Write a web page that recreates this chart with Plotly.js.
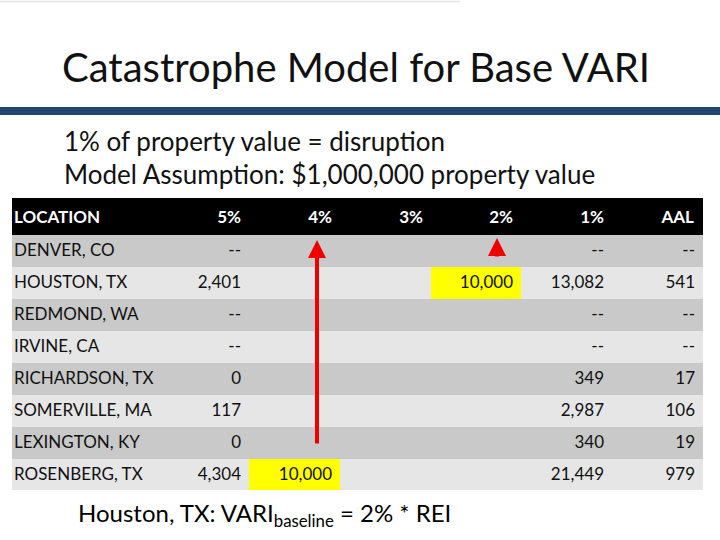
<!DOCTYPE html>
<html>
<head>
<meta charset="utf-8">
<script src="https://cdn.plot.ly/plotly-3.0.1.min.js"></script>
<style>
  body { margin: 0; background: #fff; }
  #graph { width: 720px; height: 540px; }
</style>
</head>
<body>
<div id="graph"></div>
<script>
// données du tableau
var entetes = ['LOCATION', '5%', '4%', '3%', '2%', '1%', 'AAL'];
var lieux = ['DENVER, CO', 'HOUSTON, TX', 'REDMOND, WA', 'IRVINE, CA',
	'RICHARDSON, TX', 'SOMERVILLE, MA', 'LEXINGTON, KY', 'ROSENBERG, TX'];
var p5 = ['--', '2,401', '--', '--', '0', '117', '0', '4,304'];
var p4 = ['', '', '', '', '', '', '', '10,000'];
var p3 = ['', '', '', '', '', '', '', ''];
var p2 = ['', '10,000', '', '', '', '', '', ''];
var p1 = ['--', '13,082', '--', '--', '349', '2,987', '340', '21,449'];
var aal = ['--', '541', '--', '--', '17', '106', '19', '979'];

var police = 'Lato, "Noto Sans", sans-serif';
var W = 720, H = 540;

// couleurs de lignes alternées + cases surlignées en jaune
function couleursColonne(idx) {
	return lieux.map(function (l, i) {
		if ((idx === 4 && i === 1) || (idx === 2 && i === 7)) return '#ffff00';
		return (i % 2 === 0) ? '#c9c9c9' : '#e6e6e6';
	});
}
var fills = [];
for (var c = 0; c < entetes.length; c++) fills.push(couleursColonne(c));

// espaces insécables pour éviter le retour à la ligne
var lieuxAff = lieux.map(function (l) { return l.replace(/ /g, '\u00a0'); });

var data = [{
	type: 'table',
	domain: {x: [6 / W, 703 / W], y: [1 - 490 / H, 1 - 198 / H]},
	columnwidth: [152, 91, 91, 91, 90, 91, 91],
	header: {
		values: entetes.map(function (e) { return '<b>' + e + '</b>'; }),
		align: ['left', 'right', 'right', 'right', 'right', 'right', 'right'],
		fill: {color: '#000000'},
		line: {width: 0, color: '#000000'},
		font: {family: police, size: 17, color: '#ffffff'},
		height: 32
	},
	cells: {
		values: [lieuxAff, p5, p4, p3, p2, p1, aal],
		align: ['left', 'right', 'right', 'right', 'right', 'right', 'right'],
		fill: {color: fills},
		line: {width: 0, color: 'rgba(0,0,0,0)'},
		font: {family: police, size: 17, color: '#111111'},
		height: 32
	}
}];

function px(x) { return x / W; }
function py(y) { return 1 - y / H; }

var layout = {
	width: W, height: H,
	margin: {l: 0, r: 0, t: 0, b: 0},
	paper_bgcolor: '#ffffff',
	showlegend: false,
	title: {
		text: 'Catastrophe Model for Base VARI',
		font: {family: police, size: 40, color: '#111111'},
		x: px(62), xanchor: 'left', xref: 'paper',
		y: py(68), yanchor: 'middle'
	},
	shapes: [
		// fond blanc sous le tableau (colonne gauche décalée)
		{type: 'rect', xref: 'paper', yref: 'paper', x0: 0, x1: px(12), y0: py(490), y1: py(198),
			fillcolor: '#ffffff', line: {width: 0}, layer: 'above'},
		{type: 'rect', xref: 'paper', yref: 'paper', x0: 0, x1: 1, y0: py(115), y1: py(107),
			fillcolor: '#24456f', line: {width: 0}},
		{type: 'line', xref: 'paper', yref: 'paper', x0: 0, x1: px(460), y0: py(1.5), y1: py(1.5),
			line: {color: '#e4e4e4', width: 1.5}}
	],
	annotations: [
		{text: '1% of property value = disruption', xref: 'paper', yref: 'paper',
			x: px(62), y: py(141), xanchor: 'left', yanchor: 'middle', showarrow: false,
			font: {family: police, size: 26, color: '#111111'}},
		{text: 'Model Assumption: $1,000,000 property value', xref: 'paper', yref: 'paper',
			x: px(62), y: py(174), xanchor: 'left', yanchor: 'middle', showarrow: false,
			font: {family: police, size: 26, color: '#111111'}},
		{text: 'Houston, TX: VARI<sub>baseline</sub> = 2% * REI', xref: 'paper', yref: 'paper',
			x: px(76), y: py(514), xanchor: 'left', yanchor: 'middle', showarrow: false,
			font: {family: police, size: 24, color: '#000000'}},
		// flèches rouges
		{text: '', xref: 'paper', yref: 'paper', x: px(317), y: py(240), ax: 0, ay: 205,
			showarrow: true, arrowhead: 2, arrowsize: 0.9, arrowwidth: 4, arrowcolor: '#ee0000'},
		{text: '', xref: 'paper', yref: 'paper', x: px(497), y: py(238), ax: 0, ay: 20,
			showarrow: true, arrowhead: 2, arrowsize: 0.9, arrowwidth: 4, arrowcolor: '#ee0000'}
	]
};

Plotly.newPlot('graph', data, layout, {displayModeBar: false, staticPlot: true});
</script>
</body>
</html>
